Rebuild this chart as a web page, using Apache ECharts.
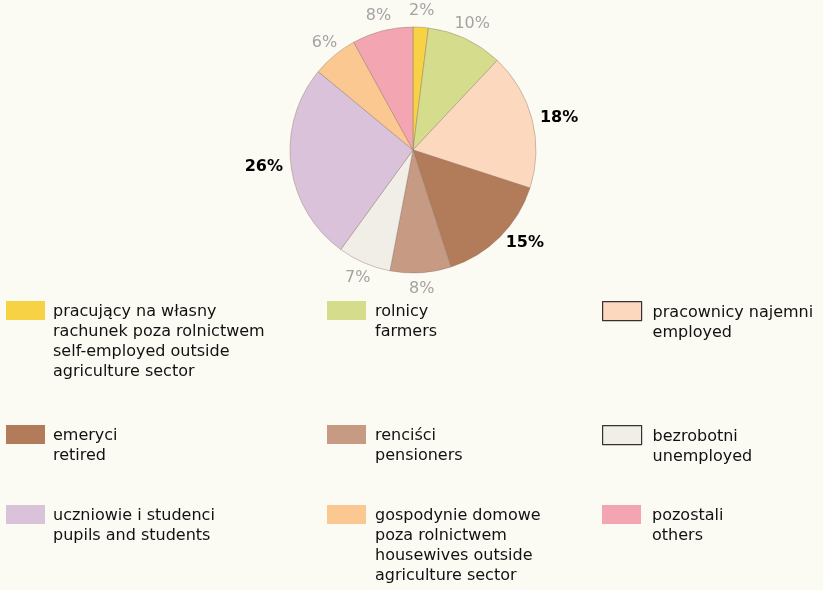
<!DOCTYPE html>
<html><head><meta charset="utf-8">
<script src="https://cdn.jsdelivr.net/npm/echarts@6/dist/echarts.min.js"></script>
<style>html,body{margin:0;padding:0;background:#fbfbf4}#c{width:823px;height:590px}</style>
</head><body><div id="c"></div>
<script>
const categories = [
  'pracujący na własny\nrachunek poza rolnictwem\nself-employed outside\nagriculture sector',
  'rolnicy\nfarmers',
  'pracownicy najemni\nemployed',
  'emeryci\nretired',
  'renciści\npensioners',
  'bezrobotni\nunemployed',
  'uczniowie i studenci\npupils and students',
  'gospodynie domowe\npoza rolnictwem\nhousewives outside\nagriculture sector',
  'pozostali\nothers'
];
const values = [2, 10, 18, 15, 8, 7, 26, 6, 8];

const sliceColors = ['#f6d244', '#d5dc8c', '#fcd8bf', '#b27b59', '#c69a83', '#f0eee6', '#dac2da', '#fac890', '#f3a5b1'];
const boldLabel = [false, false, true, true, false, false, true, false, false];
const borderedSwatch = [false, false, true, false, false, true, false, false, false];

const FONT = 'DejaVu Sans';
const LH = 20;
const colX = [6, 327, 602], rowY = [301, 425, 505], padL = [3, 4, 6];

const legends = categories.map((name, i) => {
  const n = name.split('\n').length;
  const h = LH * n + 2;
  const r = Math.floor(i / 3), c = i % 3;
  return {
    data: [{ name: name,
      icon: 'path://M0,0h39v19h-39z M0,' + h + 'h0.01',
      itemStyle: borderedSwatch[i] ? { borderColor: '#333', borderWidth: 1.2 } : { borderWidth: 0 } }],
    left: colX[c],
    top: rowY[r],
    orient: 'vertical',
    padding: 0,
    itemWidth: 39,
    itemHeight: h,
    selectedMode: false,
    textStyle: { fontFamily: FONT, fontSize: 16, color: '#111', lineHeight: LH,
      padding: [0, 0, 0, padL[c]] }
  };
});

const chart = echarts.init(document.getElementById('c'), null, { renderer: 'canvas' });
chart.setOption({
  backgroundColor: '#fbfbf4',
  animation: false,
  legend: legends,
  series: [{
    type: 'pie',
    center: [413, 150],
    radius: 123,
    startAngle: 90,
    clockwise: true,
    avoidLabelOverlap: false,
    emphasis: { disabled: true },
    itemStyle: { borderColor: 'rgba(140,115,100,0.6)', borderWidth: 0.7 },
    label: { show: true, position: 'outside', formatter: '{c}%', fontFamily: FONT, fontSize: 16,
      distanceToLabelLine: 0 },
    labelLine: { show: false, length: 16, length2: 0 },
    labelLayout: function (p) {
      return boldLabel[p.dataIndex] ? {} : { align: 'center', verticalAlign: 'middle' };
    },
    data: categories.map((name, i) => ({
      name: name,
      value: values[i],
      itemStyle: { color: sliceColors[i] },
      labelLine: { length: boldLabel[i] ? 8 : 16 },
      label: boldLabel[i] ? { color: '#000', fontWeight: 'bold' } : { color: '#a3a3a3', fontWeight: 'normal' }
    }))
  }]
});
</script></body></html>
